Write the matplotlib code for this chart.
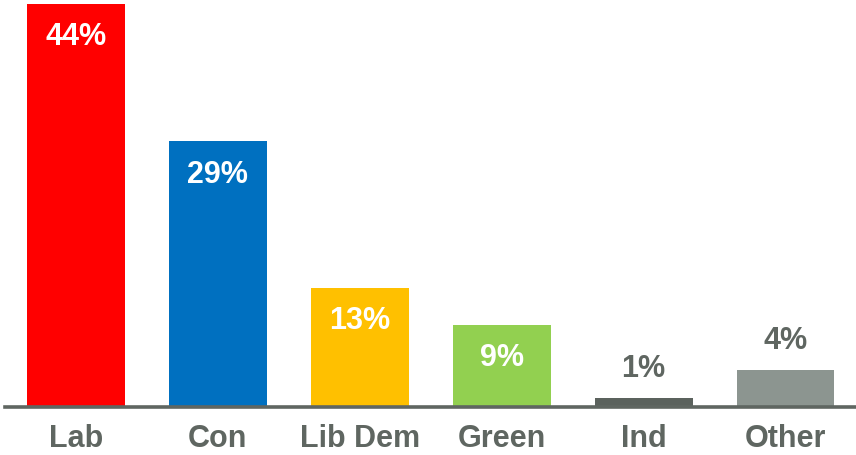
import matplotlib.pyplot as plt

# Data
parties = ['Lab', 'Con', 'Lib Dem', 'Green', 'Ind', 'Other']
shares = [44, 29, 13, 9, 1, 4]
colours = ['#FF0000', '#0070C0', '#FFC000', '#92D050', '#5B625D', '#8C9590']
inside = [True, True, True, True, False, False]

grey = '#5F6661'
plt.rcParams['font.family'] = ['Liberation Sans', 'DejaVu Sans']

fig = plt.figure(figsize=(8.56, 4.55), dpi=100)
ax = fig.add_axes([5 / 856, 48 / 455, 850 / 856, 403 / 455])

x = range(len(parties))
ax.bar(x, shares, width=0.69, color=colours, zorder=2)

for i, v in enumerate(shares):
    if inside[i]:
        ax.annotate(f'{v}%', (i, v), xytext=(0, -24), textcoords='offset points',
                    ha='center', va='center', color='white', fontsize=22, fontweight='bold')
    else:
        ax.annotate(f'{v}%', (i, v), xytext=(0, 21), textcoords='offset points',
                    ha='center', va='center', color=grey, fontsize=22, fontweight='bold')

ax.set_xlim(-0.5, 5.49)
ax.set_ylim(0, 44)

ax.set_xticks(list(x))
ax.set_xticklabels(parties, fontsize=22, fontweight='bold', color=grey)
ax.tick_params(axis='x', length=0, pad=12.5)
ax.set_yticks([])

for s in ['top', 'right', 'left']:
    ax.spines[s].set_visible(False)
ax.spines['bottom'].set_color(grey)
ax.spines['bottom'].set_linewidth(2.6)
ax.spines['bottom'].set_zorder(3)

fig.savefig('out.png', dpi=100)
plt.close()
